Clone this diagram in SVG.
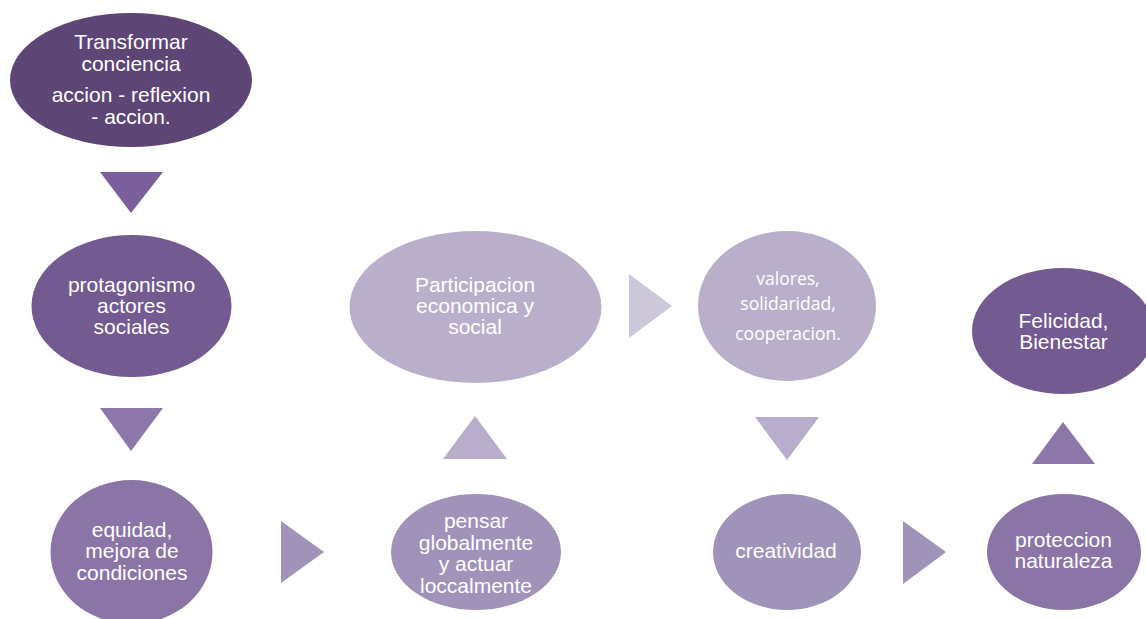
<svg xmlns="http://www.w3.org/2000/svg" width="1146" height="619" viewBox="0 0 1146 619">
<style>
.t{font-family:"Liberation Sans",Arial,sans-serif;font-size:21px;fill:#ffffff;text-anchor:middle}
.c{font-family:"Open Sans","Noto Sans",sans-serif;font-size:17.5px;fill:#ffffff;text-anchor:middle}
</style>
<rect width="1146" height="619" fill="#ffffff"/>
<g id="connectors">
<polygon points="100,172 163,172 131,213" fill="#7b5f9a"/>
<polygon points="100,408 163,408 131,451" fill="#8d77a8"/>
<polygon points="281,521 281,583 324,552" fill="#a092b9"/>
<polygon points="443,459 507,459 475,416" fill="#b8aecb"/>
<polygon points="629,274 629,338 672,306" fill="#cdc7da"/>
<polygon points="755,417 819,417 787,460" fill="#b8aecb"/>
<polygon points="903,521 903,584 946,552" fill="#a093b9"/>
<polygon points="1032,464 1095,464 1063,422" fill="#8d77a8"/>
</g>
<g id="n1">
<ellipse cx="131" cy="80" rx="121" ry="67" fill="#5d4676"/>
<text class="t" x="131" y="49">Transformar</text>
<text class="t" x="131" y="71">conciencia</text>
<text class="t" x="131" y="102">accion - reflexion</text>
<text class="t" x="131" y="124">- accion.</text>
</g>
<g id="n2">
<ellipse cx="131.5" cy="306" rx="100" ry="71" fill="#735a90"/>
<text class="t" x="131.5" y="292">protagonismo</text>
<text class="t" x="131.5" y="313">actores</text>
<text class="t" x="131.5" y="334">sociales</text>
</g>
<g id="n3">
<ellipse cx="131.5" cy="552" rx="81" ry="72" fill="#8b75a6"/>
<text class="t" x="132" y="537">equidad,</text>
<text class="t" x="132" y="558">mejora de</text>
<text class="t" x="132" y="580">condiciones</text>
</g>
<g id="n4">
<ellipse cx="476" cy="552" rx="85" ry="58" fill="#a092b9"/>
<text class="t" x="476" y="528">pensar</text>
<text class="t" x="476" y="550">globalmente</text>
<text class="t" x="476" y="571">y actuar</text>
<text class="t" x="476" y="593">loccalmente</text>
</g>
<g id="n5">
<ellipse cx="475.5" cy="307" rx="126" ry="76" fill="#b9afcb"/>
<text class="t" x="475" y="292">Participacion</text>
<text class="t" x="475" y="313">economica y</text>
<text class="t" x="475" y="334">social</text>
</g>
<g id="n6">
<ellipse cx="787" cy="306" rx="89" ry="75" fill="#b9afcb"/>
<text class="c" x="788" y="285">valores,</text>
<text class="c" x="788" y="310">solidaridad,</text>
<text class="c" x="788" y="340">cooperacion.</text>
</g>
<g id="n7">
<ellipse cx="787" cy="552" rx="74" ry="58" fill="#a093b9"/>
<text class="t" x="786" y="558">creatividad</text>
</g>
<g id="n8">
<ellipse cx="1064" cy="552" rx="77" ry="58" fill="#8b75a6"/>
<text class="t" x="1063.5" y="547">proteccion</text>
<text class="t" x="1063.5" y="568">naturaleza</text>
</g>
<g id="n9">
<ellipse cx="1063" cy="331" rx="91" ry="63" fill="#735a90"/>
<text class="t" x="1063.5" y="328">Felicidad,</text>
<text class="t" x="1063.5" y="349">Bienestar</text>
</g>
</svg>
